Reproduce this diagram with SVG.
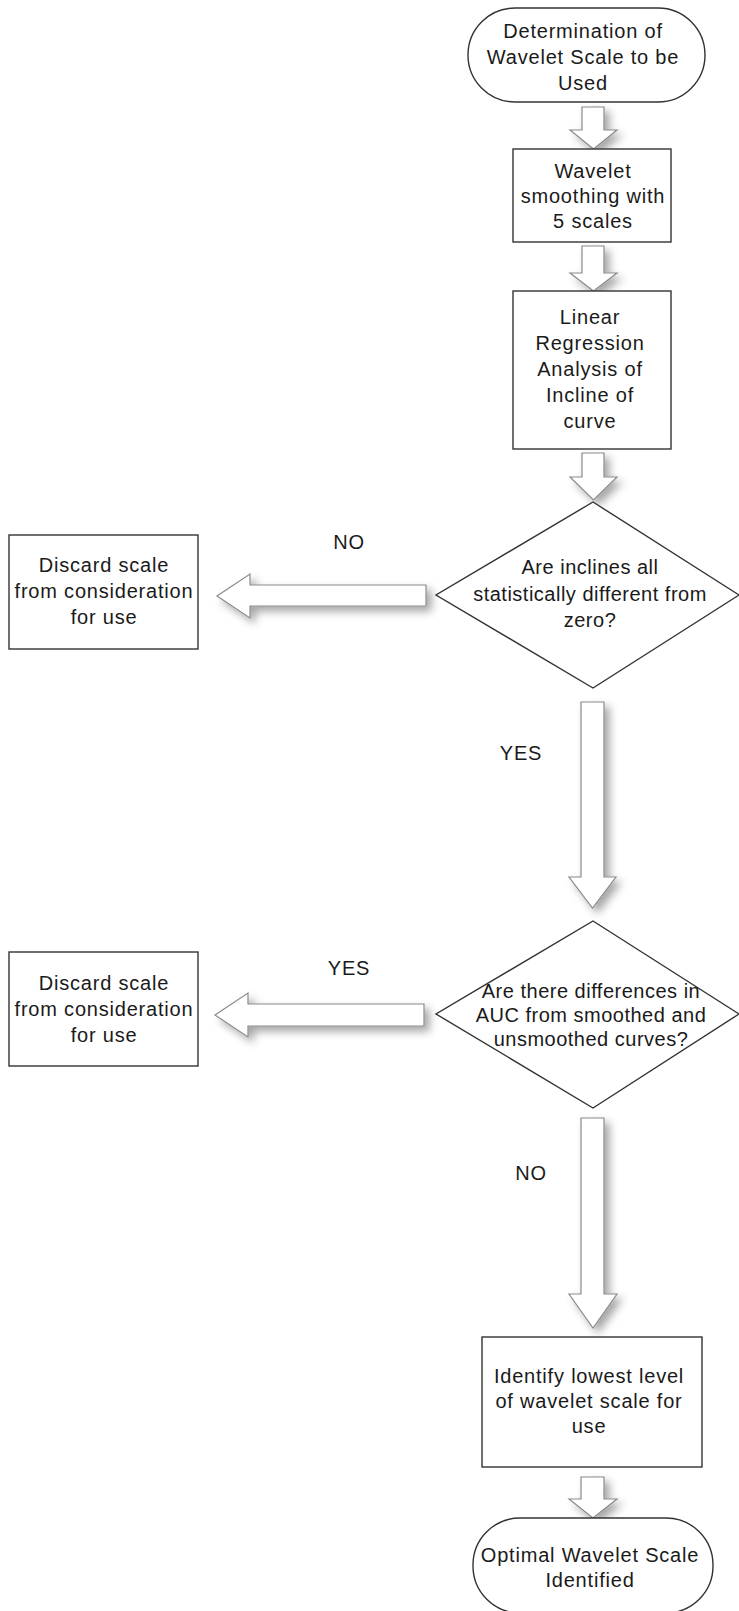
<svg xmlns="http://www.w3.org/2000/svg" width="739" height="1611" viewBox="0 0 739 1611">
  <defs>
    <filter id="sh" x="-50%" y="-50%" width="200%" height="200%">
      <feDropShadow dx="5" dy="5" stdDeviation="4" flood-color="#000" flood-opacity="0.35"/>
    </filter>
  </defs>
  <style>
    .node { fill: #fff; stroke: #333; stroke-width: 1.4; }
    .arr { fill: #fff; stroke: #8a8a8a; stroke-width: 1.2; filter: url(#sh); }
    text { font-family: "Liberation Sans", Arial, sans-serif; font-size: 20px; fill: #1a1a1a; text-anchor: middle; letter-spacing: 0.8px; }
    .dt { letter-spacing: 0.5px; }
  </style>
  <rect width="739" height="1611" fill="#fff"/>

  <g id="connectors">
    <path class="arr" d="M582 107 H604 V130 H617 L593.5 149 L570 130 H582 Z"/>
    <path class="arr" d="M582 246 H604 V273 H617 L593.5 291 L570 273 H582 Z"/>
    <path class="arr" d="M582 453 H604 V477 H617 L593.5 500 L570 477 H582 Z"/>
    <path class="arr" d="M426 585 V606 H250 V618 L217 596 L250 574 V585 Z"/>
    <path class="arr" d="M581 702 H604 V877 H616 L592.5 908 L569 877 H581 Z"/>
    <path class="arr" d="M424 1004 V1026 H248 V1037 L215 1015 L248 993 V1004 Z"/>
    <path class="arr" d="M581 1118 H604 V1294 H617 L593 1328 L569 1294 H581 Z"/>
    <path class="arr" d="M581 1477 H604 V1499 H617 L593 1518 L569 1499 H581 Z"/>
    <text x="349" y="549">NO</text>
    <text x="521" y="760">YES</text>
    <text x="349" y="975">YES</text>
    <text x="531" y="1180">NO</text>
  </g>

  <g id="start">
    <rect class="node" x="468" y="8" width="237" height="94" rx="47" ry="47"/>
    <text x="583" y="38">Determination of</text>
    <text x="583" y="64">Wavelet Scale to be</text>
    <text x="583" y="90">Used</text>
  </g>

  <g id="smoothing">
    <rect class="node" x="513" y="149" width="158" height="93"/>
    <text x="593" y="178">Wavelet</text>
    <text x="593" y="203">smoothing with</text>
    <text x="593" y="228">5 scales</text>
  </g>

  <g id="regression">
    <rect class="node" x="513" y="291" width="158" height="158"/>
    <text x="590" y="324">Linear</text>
    <text x="590" y="350">Regression</text>
    <text x="590" y="376">Analysis of</text>
    <text x="590" y="402">Incline of</text>
    <text x="590" y="428">curve</text>
  </g>

  <g id="decision1">
    <polygon class="node" points="593,502 739,595 593,688 436,595"/>
    <text class="dt" x="590" y="574">Are inclines all</text>
    <text class="dt" x="590" y="601">statistically different from</text>
    <text class="dt" x="590" y="627">zero?</text>
  </g>

  <g id="discard1">
    <rect class="node" x="9" y="535" width="189" height="114"/>
    <text x="104" y="572">Discard scale</text>
    <text x="104" y="598">from consideration</text>
    <text x="104" y="624">for use</text>
  </g>

  <g id="decision2">
    <polygon class="node" points="593,921 739,1014 593,1108 436,1014"/>
    <text class="dt" x="591" y="998">Are there differences in</text>
    <text class="dt" x="591" y="1022">AUC from smoothed and</text>
    <text class="dt" x="591" y="1046">unsmoothed curves?</text>
  </g>

  <g id="discard2">
    <rect class="node" x="9" y="952" width="189" height="114"/>
    <text x="104" y="990">Discard scale</text>
    <text x="104" y="1016">from consideration</text>
    <text x="104" y="1042">for use</text>
  </g>

  <g id="identify">
    <rect class="node" x="482" y="1337" width="220" height="130"/>
    <text x="589" y="1383">Identify lowest level</text>
    <text x="589" y="1408">of wavelet scale for</text>
    <text x="589" y="1433">use</text>
  </g>

  <g id="end">
    <rect class="node" x="473" y="1518" width="240" height="95" rx="47" ry="47"/>
    <text x="590" y="1562">Optimal Wavelet Scale</text>
    <text x="590" y="1587">Identified</text>
  </g>
</svg>
